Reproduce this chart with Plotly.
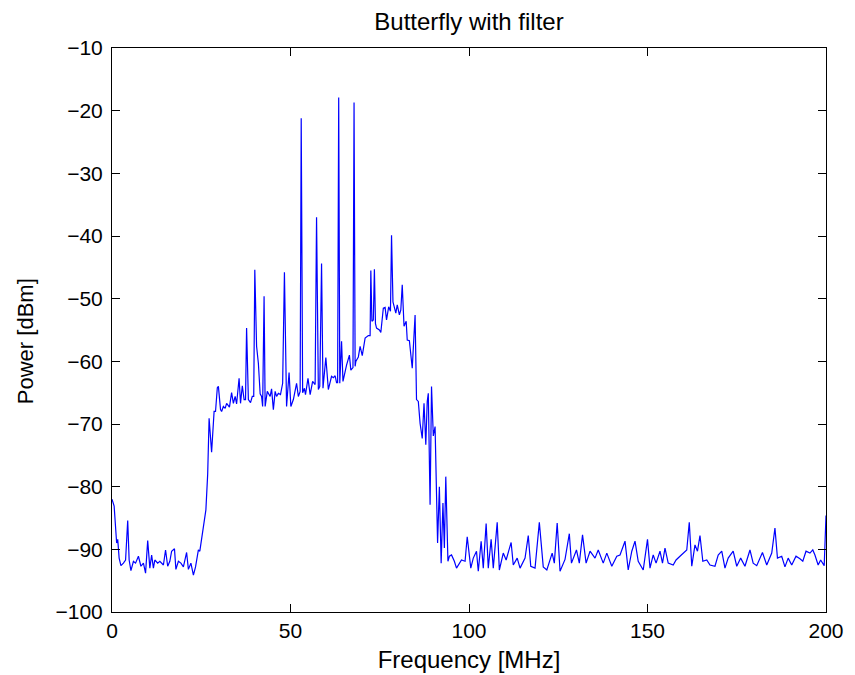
import plotly.graph_objects as go

# ---- data (frequency in MHz, power in dBm) ----
freq_low = [0.0, 0.6, 1.3, 1.6, 2.0, 2.5, 3.2, 3.8, 4.4, 4.8, 5.3, 6.0, 6.6, 7.4, 8.1, 8.8,
            9.4, 10.0, 10.6, 11.1, 11.6, 12.0, 12.8, 13.4, 14.4, 15.0, 15.6, 16.2, 16.7, 17.5,
            17.9, 18.6, 19.3, 20.0, 20.9, 21.4, 22.1, 22.8, 23.4, 24.2, 24.6, 25.3, 25.8, 26.3]
power_low = [-82.0, -83.1, -89.0, -88.4, -91.4, -92.6, -92.2, -91.7, -85.4, -91.7, -93.4, -91.9,
             -92.2, -91.1, -92.7, -92.2, -93.8, -88.6, -93.0, -90.9, -93.0, -91.7, -92.2, -91.9,
             -92.5, -90.1, -92.7, -91.9, -90.3, -89.9, -93.2, -91.9, -92.2, -92.8, -90.5, -93.2,
             -92.2, -94.1, -92.8, -90.1, -90.3, -87.7, -85.3, -83.7]

freq_band = [26.8, 27.2, 27.9, 28.6, 29.0, 29.5, 29.8, 30.4, 30.7, 31.2, 31.7, 32.1, 32.9, 33.5,
             34.0, 34.5, 34.9, 35.6, 36.0, 36.5, 37.0, 37.4, 37.7, 38.0, 38.2, 38.8, 39.3, 39.7,
             40.0, 40.5, 41.0, 41.5, 41.9, 42.2, 42.6, 42.9, 43.5, 44.3, 44.7, 45.2, 45.7, 46.1,
             46.6, 47.2, 47.8, 48.3, 48.9, 49.6, 50.1, 50.8, 51.7, 52.2, 52.7, 53.0, 53.4, 53.9,
             54.2, 54.9, 55.5, 56.2, 56.9, 57.3, 57.8, 58.2, 58.7, 59.1, 59.9, 60.6, 61.2, 61.5,
             62.0, 62.5, 62.9, 63.2, 63.5, 63.8, 64.3, 64.7, 65.7, 66.5, 66.9, 67.5, 67.8, 68.1,
             68.3, 69.0, 69.5, 70.1, 70.9, 71.8, 72.3, 72.5, 72.8, 73.2, 73.5, 73.8, 74.1, 74.9,
             75.3, 76.0, 76.5, 76.9, 77.5, 78.0, 78.3, 78.7, 79.5, 79.9, 80.5, 80.9, 81.3, 81.8,
             82.4, 82.7, 83.3, 84.1, 84.9, 85.3]
power_band = [-78.0, -69.1, -74.5, -68.0, -68.0, -64.2, -64.0, -67.7, -68.0, -67.2, -67.5, -66.7,
              -67.3, -65.0, -66.7, -65.6, -66.8, -62.7, -66.7, -63.9, -66.1, -66.1, -54.7, -66.1,
              -66.1, -66.6, -65.6, -65.6, -45.4, -57.6, -60.3, -65.2, -65.6, -67.2, -49.6, -67.2,
              -64.8, -65.6, -64.4, -67.7, -64.8, -65.6, -65.1, -65.3, -63.5, -45.8, -67.2, -61.8,
              -67.2, -66.1, -63.5, -65.6, -64.8, -21.2, -65.0, -64.3, -65.3, -62.7, -65.3, -63.2,
              -63.7, -37.0, -64.5, -64.0, -44.4, -64.3, -59.4, -64.5, -63.0, -62.4, -62.6, -62.3,
              -63.4, -63.4, -17.9, -63.5, -56.8, -63.2, -60.6, -59.0, -61.4, -61.0, -18.7, -60.8,
              -60.0, -59.3, -57.6, -59.1, -56.3, -55.9, -55.9, -45.5, -53.6, -53.4, -45.3, -54.0,
              -54.7, -55.0, -55.4, -51.5, -51.4, -53.4, -51.3, -52.0, -39.9, -50.5, -52.3, -51.0,
              -52.6, -51.8, -47.8, -54.4, -53.6, -56.6, -56.7, -61.1, -52.6, -66.1]

freq_rolloff = [85.8, 86.3, 86.9, 87.4, 87.9, 88.3, 88.6, 89.1, 89.5, 90.0, 90.5, 91.2, 91.7, 92.2,
                92.7, 93.1, 93.5, 94.1, 94.5, 95.1, 95.9, 96.5]
power_rolloff = [-66.4, -69.9, -72.3, -66.7, -73.3, -66.4, -65.1, -82.9, -64.0, -71.9, -70.4, -89.0,
                 -80.0, -92.2, -82.6, -89.8, -78.4, -91.9, -91.1, -90.9, -91.9, -93.0]

freq_high = [97.9, 98.9, 99.5, 100.5, 101.2, 102.1, 102.6, 103.4, 104.0, 104.8, 105.4, 106.2,
             106.8, 107.9, 108.5, 109.6, 110.4, 111.8, 112.4, 113.5, 114.3, 115.7, 116.6, 117.3,
             118.5, 119.7, 120.8, 121.8, 122.5, 123.3, 123.9, 124.7, 125.5, 126.9, 128.1, 128.7,
             130.1, 130.9, 131.8, 132.8, 133.9, 135.3, 136.2, 137.6, 138.6, 140.0, 141.4, 142.3,
             143.7, 144.6, 145.6, 146.5, 147.4, 148.8, 150.0, 150.7, 151.6, 152.4, 153.5, 154.2,
             154.9, 155.8, 157.2, 158.0, 159.1, 160.5, 161.0, 161.7, 162.4, 163.3, 164.0, 164.7,
             165.5, 166.6, 167.5, 168.9, 169.8, 170.8, 171.7, 172.6, 174.0, 175.0, 176.1, 177.3,
             178.7, 179.6, 180.6, 182.2, 183.4, 184.8, 185.7, 186.4, 187.6, 188.5, 189.4, 190.4,
             191.6, 192.7, 193.5, 194.4, 195.5, 196.3, 196.9, 197.8, 198.5, 199.5, 200.0]
power_high = [-91.7, -91.9, -88.0, -93.0, -91.4, -90.3, -93.5, -88.7, -93.0, -85.9, -93.0, -88.4,
              -93.0, -85.7, -93.3, -90.6, -91.7, -88.9, -92.5, -91.4, -93.0, -91.4, -87.8, -92.7,
              -93.0, -85.7, -92.8, -93.3, -91.9, -90.6, -92.2, -85.8, -93.5, -91.6, -87.5, -92.2,
              -90.1, -92.2, -87.7, -92.2, -90.3, -91.4, -90.1, -92.2, -90.6, -92.7, -91.1, -90.9,
              -88.7, -93.3, -90.3, -88.7, -91.9, -93.3, -88.4, -93.0, -90.9, -92.2, -90.3, -92.2,
              -89.8, -92.2, -92.5, -91.7, -91.1, -90.3, -90.1, -85.7, -92.7, -89.3, -90.3, -87.8,
              -91.9, -91.7, -92.5, -92.7, -90.9, -90.3, -93.0, -91.4, -90.3, -92.7, -91.4, -92.7,
              -90.1, -92.2, -92.6, -90.5, -92.5, -90.6, -86.6, -91.4, -91.1, -92.8, -91.4, -92.5,
              -91.1, -91.5, -91.9, -90.3, -90.6, -90.1, -90.9, -92.5, -91.7, -92.6, -84.6]

x_ticks = [0, 50, 100, 150, 200]
y_ticks = [-100, -90, -80, -70, -60, -50, -40, -30, -20, -10]

freq = freq_low + freq_band + freq_rolloff + freq_high
power = power_low + power_band + power_rolloff + power_high

FONT = "Liberation Sans, Arial, Helvetica, sans-serif"

fig = go.Figure()
fig.add_trace(go.Scatter(x=freq, y=power, mode="lines",
                         line=dict(color="#0000ff", width=1.2), showlegend=False))

axis_common = dict(showline=True, linecolor="black", linewidth=1, mirror="ticks",
                   ticks="inside", ticklen=8, tickcolor="black", tickwidth=1,
                   showgrid=False, zeroline=False, automargin=False,
                   tickfont=dict(family=FONT, size=21, color="black"))

fig.update_xaxes(range=[0, 200], tickvals=x_ticks, **axis_common,
                 title=dict(text="Frequency [MHz]", font=dict(family=FONT, size=24, color="black"),
                            standoff=9))
fig.update_yaxes(range=[-100, -10], tickvals=y_ticks, **axis_common,
                 ticklabelstandoff=4)

# y-axis title placed as a rotated annotation so it sits where the reference has it
fig.add_annotation(text="Power [dBm]", xref="paper", yref="paper",
                   x=-0.122, y=0.48, xanchor="center", yanchor="middle",
                   textangle=-90, showarrow=False,
                   font=dict(family=FONT, size=22, color="black"))

# the page body adds an 8px offset; the figure is sized to fit the 855x675 window
fig.update_layout(
    width=847, height=667,
    margin=dict(l=104, r=29, t=40, b=63),
    plot_bgcolor="white", paper_bgcolor="white",
    font=dict(family=FONT, size=21, color="black"),
    title=dict(text="Butterfly with filter", x=0.5, xref="paper", xanchor="center",
               y=1 - 14 / 667, yref="container", yanchor="middle",
               font=dict(family=FONT, size=24, color="black")),
    showlegend=False,
)

fig.write_html("out.html")
